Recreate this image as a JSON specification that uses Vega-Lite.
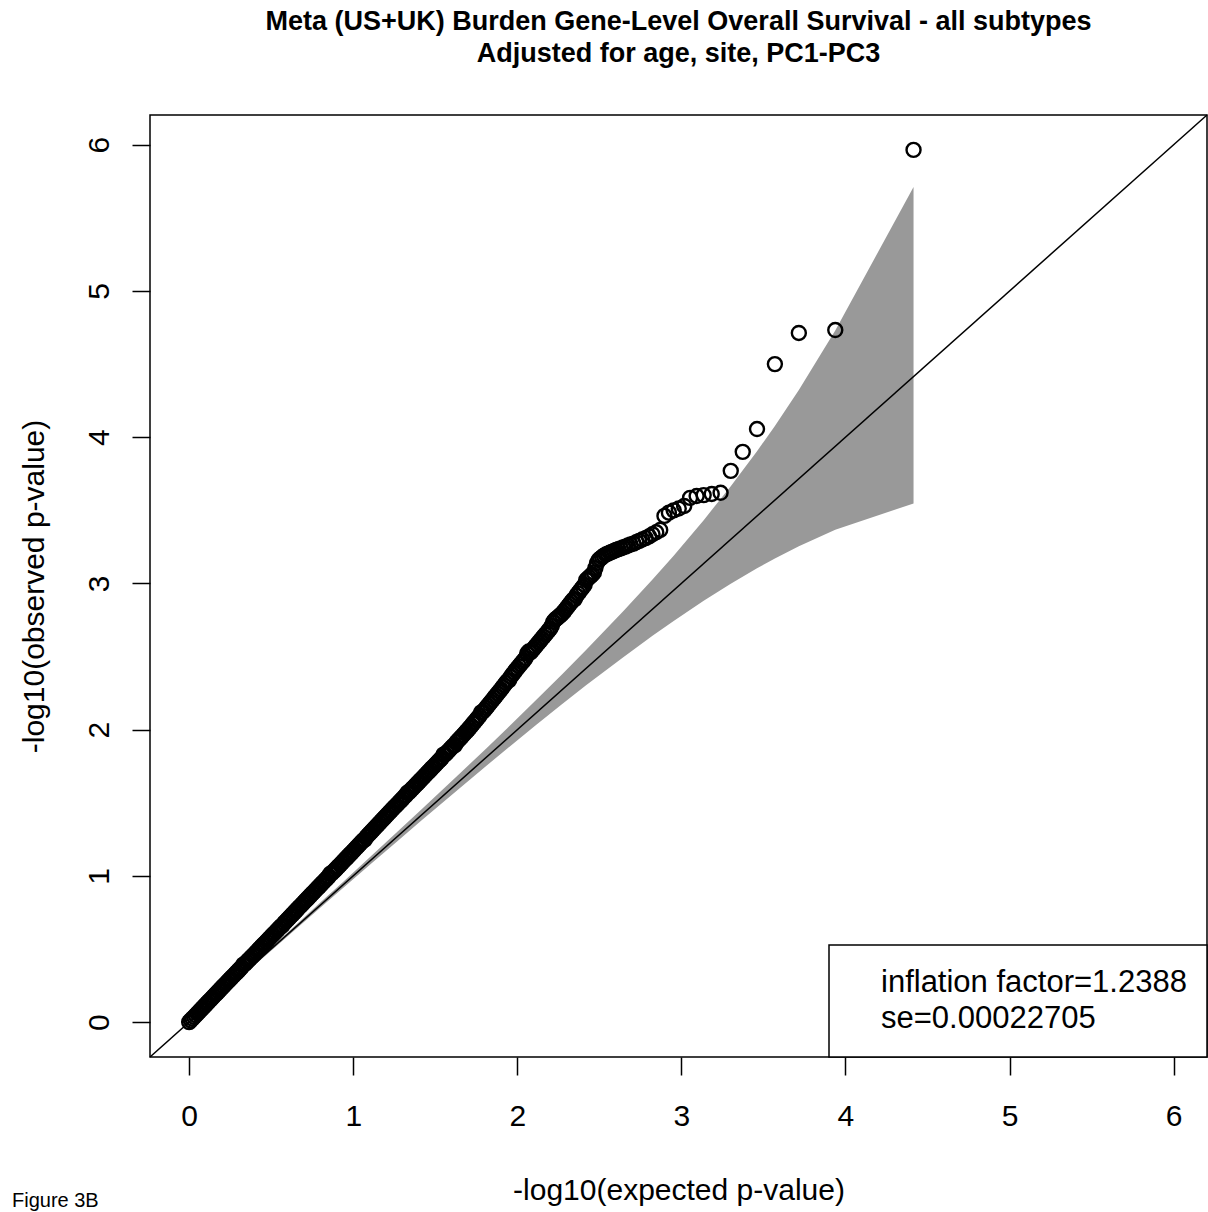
{
  "$schema": "https://vega.github.io/schema/vega-lite/v6.json",
  "width": 1057,
  "height": 942,
  "autosize": {"type": "none"},
  "padding": {"left": 150, "top": 115, "right": 1, "bottom": 155},
  "background": "white",
  "title": {
    "text": ["Meta (US+UK) Burden Gene-Level Overall Survival - all subtypes", "Adjusted for age, site, PC1-PC3"],
    "font": "Liberation Sans",
    "fontSize": 27,
    "fontWeight": "bold",
    "color": "black",
    "anchor": "middle",
    "frame": "group",
    "baseline": "bottom",
    "lineHeight": 32,
    "offset": 17
  },
  "config": {
    "view": {"stroke": "black", "strokeWidth": 1.5},
    "axis": {
      "grid": false,
      "domain": false,
      "ticks": true,
      "tickColor": "black",
      "tickWidth": 1.5,
      "tickSize": 18,
      "labelFont": "Liberation Sans",
      "labelFontSize": 30,
      "labelColor": "black",
      "labelFlush": false,
      "labelOverlap": false,
      "titleFont": "Liberation Sans",
      "titleFontSize": 30,
      "titleFontWeight": "normal",
      "titleColor": "black"
    },
    "legend": {
      "strokeColor": "black",
      "strokeWidth": 1.5,
      "fillColor": "white",
      "padding": 20,
      "labelFont": "Liberation Sans",
      "labelFontSize": 31,
      "labelColor": "black",
      "labelLimit": 1000,
      "symbolSize": 1296,
      "symbolOpacity": 0,
      "symbolStrokeWidth": 0,
      "labelOffset": -4,
      "rowPadding": 0
    }
  },
  "datasets": {
    "band": [
      {"e": 0, "lo": 0, "hi": 0},
      {"e": 0.1598, "lo": 0.1548, "hi": 0.1648},
      {"e": 0.3359, "lo": 0.328, "hi": 0.344},
      {"e": 0.4609, "lo": 0.4506, "hi": 0.4712},
      {"e": 0.637, "lo": 0.623, "hi": 0.651},
      {"e": 0.813, "lo": 0.796, "hi": 0.831},
      {"e": 0.938, "lo": 0.917, "hi": 0.959},
      {"e": 1.114, "lo": 1.088, "hi": 1.141},
      {"e": 1.269, "lo": 1.237, "hi": 1.302},
      {"e": 1.4155, "lo": 1.378, "hi": 1.454},
      {"e": 1.638, "lo": 1.589, "hi": 1.688},
      {"e": 1.814, "lo": 1.755, "hi": 1.875},
      {"e": 1.939, "lo": 1.871, "hi": 2.01},
      {"e": 2.116, "lo": 2.033, "hi": 2.204},
      {"e": 2.272, "lo": 2.173, "hi": 2.377},
      {"e": 2.419, "lo": 2.303, "hi": 2.545},
      {"e": 2.644, "lo": 2.494, "hi": 2.808},
      {"e": 2.824, "lo": 2.642, "hi": 3.027},
      {"e": 2.953, "lo": 2.743, "hi": 3.19},
      {"e": 3.136, "lo": 2.881, "hi": 3.433},
      {"e": 3.301, "lo": 2.998, "hi": 3.665},
      {"e": 3.461, "lo": 3.104, "hi": 3.904},
      {"e": 3.57, "lo": 3.171, "hi": 4.077},
      {"e": 3.716, "lo": 3.255, "hi": 4.323},
      {"e": 3.938, "lo": 3.368, "hi": 4.73},
      {"e": 4.415, "lo": 3.547, "hi": 5.711}
    ],
    "pts": [
      {"e":0.00,"o":0.000},{"e":0.01,"o":0.012},{"e":0.02,"o":0.024},{"e":0.03,"o":0.035},{"e":0.04,"o":0.047},
      {"e":0.05,"o":0.059},{"e":0.06,"o":0.071},{"e":0.07,"o":0.083},{"e":0.08,"o":0.094},{"e":0.09,"o":0.106},
      {"e":0.10,"o":0.118},{"e":0.11,"o":0.130},{"e":0.12,"o":0.142},{"e":0.13,"o":0.153},{"e":0.14,"o":0.165},
      {"e":0.15,"o":0.177},{"e":0.16,"o":0.189},{"e":0.17,"o":0.200},{"e":0.18,"o":0.212},{"e":0.19,"o":0.224},
      {"e":0.20,"o":0.236},{"e":0.21,"o":0.248},{"e":0.22,"o":0.259},{"e":0.23,"o":0.271},{"e":0.24,"o":0.283},
      {"e":0.25,"o":0.294},{"e":0.26,"o":0.306},{"e":0.27,"o":0.317},{"e":0.28,"o":0.329},{"e":0.29,"o":0.340},
      {"e":0.30,"o":0.352},{"e":0.31,"o":0.364},{"e":0.32,"o":0.375},{"e":0.33,"o":0.393},{"e":0.34,"o":0.398},
      {"e":0.35,"o":0.410},{"e":0.36,"o":0.422},{"e":0.37,"o":0.433},{"e":0.38,"o":0.445},{"e":0.39,"o":0.456},
      {"e":0.40,"o":0.468},{"e":0.41,"o":0.480},{"e":0.42,"o":0.491},{"e":0.43,"o":0.503},{"e":0.44,"o":0.515},
      {"e":0.45,"o":0.527},{"e":0.46,"o":0.538},{"e":0.47,"o":0.550},{"e":0.48,"o":0.562},{"e":0.49,"o":0.573},
      {"e":0.50,"o":0.585},{"e":0.51,"o":0.597},{"e":0.52,"o":0.608},{"e":0.53,"o":0.620},{"e":0.54,"o":0.632},
      {"e":0.55,"o":0.644},{"e":0.56,"o":0.655},{"e":0.57,"o":0.662},{"e":0.58,"o":0.679},{"e":0.59,"o":0.690},
      {"e":0.60,"o":0.702},{"e":0.61,"o":0.714},{"e":0.62,"o":0.726},{"e":0.63,"o":0.737},{"e":0.64,"o":0.749},
      {"e":0.65,"o":0.761},{"e":0.66,"o":0.773},{"e":0.67,"o":0.785},{"e":0.68,"o":0.796},{"e":0.69,"o":0.808},
      {"e":0.70,"o":0.820},{"e":0.71,"o":0.832},{"e":0.72,"o":0.843},{"e":0.73,"o":0.855},{"e":0.74,"o":0.867},
      {"e":0.75,"o":0.879},{"e":0.76,"o":0.890},{"e":0.77,"o":0.902},{"e":0.78,"o":0.914},{"e":0.79,"o":0.925},
      {"e":0.80,"o":0.937},{"e":0.81,"o":0.949},{"e":0.82,"o":0.960},{"e":0.83,"o":0.972},{"e":0.84,"o":0.983},
      {"e":0.85,"o":0.995},{"e":0.86,"o":1.015},{"e":0.87,"o":1.018},{"e":0.88,"o":1.030},{"e":0.89,"o":1.041},
      {"e":0.90,"o":1.053},{"e":0.91,"o":1.065},{"e":0.92,"o":1.076},{"e":0.93,"o":1.088},{"e":0.94,"o":1.100},
      {"e":0.95,"o":1.112},{"e":0.96,"o":1.123},{"e":0.97,"o":1.135},{"e":0.98,"o":1.147},{"e":0.99,"o":1.158},
      {"e":1.00,"o":1.170},{"e":1.01,"o":1.182},{"e":1.02,"o":1.194},{"e":1.03,"o":1.206},{"e":1.04,"o":1.218},
      {"e":1.05,"o":1.230},{"e":1.06,"o":1.242},{"e":1.07,"o":1.248},{"e":1.08,"o":1.266},{"e":1.09,"o":1.278},
      {"e":1.10,"o":1.290},{"e":1.11,"o":1.302},{"e":1.12,"o":1.314},{"e":1.13,"o":1.326},{"e":1.14,"o":1.338},
      {"e":1.15,"o":1.350},{"e":1.16,"o":1.362},{"e":1.17,"o":1.374},{"e":1.18,"o":1.386},{"e":1.19,"o":1.398},
      {"e":1.20,"o":1.410},{"e":1.21,"o":1.422},{"e":1.22,"o":1.433},{"e":1.23,"o":1.445},{"e":1.24,"o":1.457},
      {"e":1.25,"o":1.469},{"e":1.26,"o":1.480},{"e":1.27,"o":1.492},{"e":1.28,"o":1.504},{"e":1.29,"o":1.515},
      {"e":1.30,"o":1.527},{"e":1.31,"o":1.539},{"e":1.32,"o":1.550},{"e":1.33,"o":1.569},{"e":1.34,"o":1.573},
      {"e":1.35,"o":1.585},{"e":1.36,"o":1.597},{"e":1.37,"o":1.608},{"e":1.38,"o":1.620},{"e":1.39,"o":1.631},
      {"e":1.40,"o":1.643},{"e":1.41,"o":1.655},{"e":1.42,"o":1.666},{"e":1.43,"o":1.678},{"e":1.44,"o":1.690},
      {"e":1.45,"o":1.702},{"e":1.46,"o":1.713},{"e":1.47,"o":1.725},{"e":1.48,"o":1.737},{"e":1.49,"o":1.748},
      {"e":1.50,"o":1.760},{"e":1.51,"o":1.772},{"e":1.52,"o":1.784},{"e":1.53,"o":1.795},{"e":1.54,"o":1.807},
      {"e":1.55,"o":1.829},{"e":1.56,"o":1.831},{"e":1.57,"o":1.843},{"e":1.58,"o":1.854},{"e":1.59,"o":1.866},
      {"e":1.60,"o":1.878},{"e":1.61,"o":1.890},{"e":1.62,"o":1.894},{"e":1.63,"o":1.915},{"e":1.64,"o":1.927},
      {"e":1.65,"o":1.939},{"e":1.66,"o":1.951},{"e":1.67,"o":1.963},{"e":1.68,"o":1.976},{"e":1.69,"o":1.988},
      {"e":1.70,"o":2.000},{"e":1.71,"o":2.014},{"e":1.72,"o":2.027},{"e":1.73,"o":2.041},{"e":1.74,"o":2.054},
      {"e":1.75,"o":2.068},{"e":1.76,"o":2.081},{"e":1.77,"o":2.095},{"e":1.78,"o":2.118},{"e":1.79,"o":2.122},
      {"e":1.80,"o":2.135},{"e":1.81,"o":2.149},{"e":1.82,"o":2.163},{"e":1.83,"o":2.177},{"e":1.84,"o":2.191},
      {"e":1.85,"o":2.205},{"e":1.86,"o":2.219},{"e":1.87,"o":2.233},{"e":1.88,"o":2.247},{"e":1.89,"o":2.261},
      {"e":1.90,"o":2.275},{"e":1.91,"o":2.290},{"e":1.92,"o":2.304},{"e":1.93,"o":2.319},{"e":1.94,"o":2.333},
      {"e":1.95,"o":2.338},{"e":1.96,"o":2.362},{"e":1.97,"o":2.377},{"e":1.98,"o":2.391},{"e":1.99,"o":2.406},
      {"e":2.00,"o":2.420},{"e":2.01,"o":2.434},{"e":2.02,"o":2.447},{"e":2.03,"o":2.461},{"e":2.04,"o":2.474},
      {"e":2.05,"o":2.488},{"e":2.06,"o":2.521},{"e":2.07,"o":2.535},{"e":2.08,"o":2.528},{"e":2.09,"o":2.542},
      {"e":2.10,"o":2.555},{"e":2.11,"o":2.569},{"e":2.12,"o":2.582},{"e":2.13,"o":2.596},{"e":2.14,"o":2.609},
      {"e":2.15,"o":2.623},{"e":2.16,"o":2.636},{"e":2.17,"o":2.650},{"e":2.18,"o":2.663},{"e":2.19,"o":2.677},
      {"e":2.20,"o":2.690},{"e":2.21,"o":2.710},{"e":2.22,"o":2.738},{"e":2.23,"o":2.752},{"e":2.24,"o":2.761},
      {"e":2.25,"o":2.770},{"e":2.26,"o":2.780},{"e":2.27,"o":2.790},{"e":2.28,"o":2.802},{"e":2.29,"o":2.816},
      {"e":2.30,"o":2.830},{"e":2.31,"o":2.845},{"e":2.32,"o":2.859},{"e":2.33,"o":2.874},{"e":2.34,"o":2.888},
      {"e":2.35,"o":2.893},{"e":2.36,"o":2.917},{"e":2.37,"o":2.932},{"e":2.38,"o":2.946},{"e":2.39,"o":2.961},
      {"e":2.40,"o":2.975},{"e":2.41,"o":2.990},
      {"e":2.420,"o":3.024},{"e":2.429,"o":3.032},{"e":2.438,"o":3.042},{"e":2.448,"o":3.052},{"e":2.457,"o":3.062},
      {"e":2.467,"o":3.075},{"e":2.476,"o":3.105},{"e":2.486,"o":3.140},{"e":2.496,"o":3.160},{"e":2.506,"o":3.170},
      {"e":2.517,"o":3.180},{"e":2.528,"o":3.190},{"e":2.540,"o":3.198},{"e":2.552,"o":3.204},{"e":2.564,"o":3.210},
      {"e":2.576,"o":3.216},{"e":2.589,"o":3.222},{"e":2.602,"o":3.229},{"e":2.616,"o":3.234},{"e":2.630,"o":3.240},
      {"e":2.644,"o":3.246},{"e":2.659,"o":3.252},{"e":2.675,"o":3.259},{"e":2.691,"o":3.266},{"e":2.708,"o":3.272},
      {"e":2.725,"o":3.282},{"e":2.743,"o":3.291},{"e":2.762,"o":3.300},{"e":2.782,"o":3.310},{"e":2.803,"o":3.322},
      {"e":2.824,"o":3.336},{"e":2.847,"o":3.350},{"e":2.871,"o":3.366},{"e":2.897,"o":3.462},{"e":2.924,"o":3.484},
      {"e":2.953,"o":3.500},{"e":2.984,"o":3.512},{"e":3.017,"o":3.530},{"e":3.053,"o":3.585},{"e":3.093,"o":3.598},
      {"e":3.136,"o":3.604},{"e":3.185,"o":3.612},{"e":3.239,"o":3.620},{"e":3.301,"o":3.770},{"e":3.374,"o":3.900},
      {"e":3.461,"o":4.056},{"e":3.570,"o":4.500},{"e":3.716,"o":4.713},{"e":3.938,"o":4.733},{"e":4.415,"o":5.965}
    ]
  },
  "layer": [
    {
      "data": {"name": "band"},
      "mark": {"type": "area", "color": "#999999", "opacity": 1},
      "encoding": {
        "x": {
          "field": "e",
          "type": "quantitative",
          "scale": {"domain": [-0.2386, 6.2036], "nice": false, "zero": false},
          "axis": {
            "title": "-log10(expected p-value)",
            "values": [0, 1, 2, 3, 4, 5, 6],
            "format": "d",
            "labelBaseline": "alphabetic",
            "labelPadding": 50,
            "titleBaseline": "alphabetic",
            "titleY": 142
          }
        },
        "y": {
          "field": "hi",
          "type": "quantitative",
          "scale": {"domain": [-0.2386, 6.2036], "nice": false, "zero": false},
          "axis": {
            "title": "-log10(observed p-value)",
            "values": [0, 1, 2, 3, 4, 5, 6],
            "format": "d",
            "labelAngle": -90,
            "labelAlign": "center",
            "labelBaseline": "alphabetic",
            "labelPadding": 24,
            "titleBaseline": "alphabetic",
            "titleX": -107
          }
        },
        "y2": {"field": "lo"}
      }
    },
    {
      "data": {"values": [{"e": -0.2386, "o": -0.2386}, {"e": 6.2036, "o": 6.2036}]},
      "mark": {"type": "line", "color": "black", "strokeWidth": 1.5},
      "encoding": {
        "x": {"field": "e", "type": "quantitative", "title": "-log10(expected p-value)"},
        "y": {"field": "o", "type": "quantitative", "title": "-log10(observed p-value)"}
      }
    },
    {
      "data": {"name": "pts"},
      "mark": {"type": "point", "filled": false, "color": "black", "strokeWidth": 2.4, "size": 196, "opacity": 1},
      "encoding": {
        "x": {"field": "e", "type": "quantitative", "title": "-log10(expected p-value)"},
        "y": {"field": "o", "type": "quantitative", "title": "-log10(observed p-value)"}
      }
    },
    {
      "data": {"values": [{"label": "Figure 3B"}]},
      "mark": {"type": "text", "align": "left", "baseline": "alphabetic", "font": "Liberation Sans", "fontSize": 20, "color": "black"},
      "encoding": {
        "x": {"datum": -1.0797},
        "y": {"datum": -1.264},
        "text": {"field": "label"}
      }
    },
    {
      "data": {"values": [{"stat": "inflation factor=1.2388"}, {"stat": "se=0.00022705"}]},
      "mark": {"type": "point", "opacity": 0},
      "encoding": {
        "x": {"datum": 3},
        "y": {"datum": 3},
        "color": {
          "field": "stat",
          "type": "nominal",
          "scale": {"range": ["black", "black"]},
          "legend": {"title": null, "orient": "bottom-right", "offset": 0}
        }
      }
    }
  ]
}
